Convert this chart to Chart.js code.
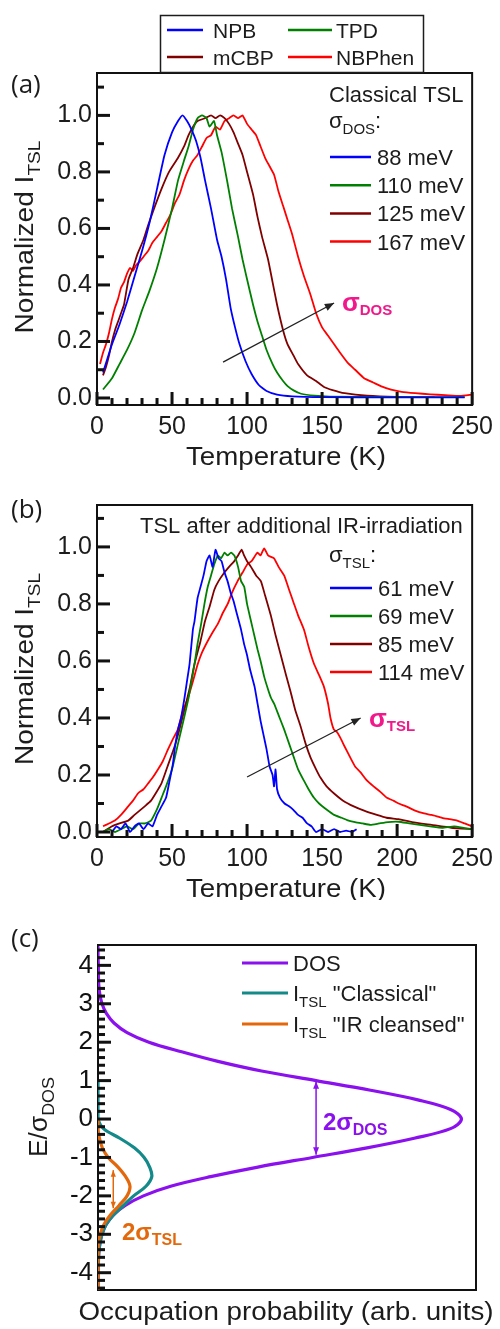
<!DOCTYPE html>
<html>
<head>
<meta charset="utf-8">
<title>TSL spectra and DOS</title>
<script src="https://cdn.jsdelivr.net/npm/chart.js@4.4.1/dist/chart.umd.min.js"></script>
<style>
  html, body { margin: 0; padding: 0; background: #fff; }
  body { position: relative; width: 500px; height: 1329px; overflow: hidden; }
  canvas { position: absolute; left: 0; }
  #chartA { top: 0; }
  #chartB { top: 470px; }
  #chartC { top: 900px; }
</style>
</head>
<body>
<canvas id="chartA" width="500" height="470"></canvas>
<canvas id="chartB" width="500" height="430"></canvas>
<canvas id="chartC" width="500" height="429"></canvas>
<script>
// ---- panel (a): classical TSL, [temperature K, normalized intensity] ----
const npbClassical = [[4,0.09],[10,0.19],[15,0.26],[20,0.34],[25,0.43],[30,0.52],[35,0.62],[40,0.74],[45,0.86],[50,0.94],[54,0.98],[57,1.0],[60,0.98],[63,0.95],[66,0.91],[69,0.85],[72,0.77],[76,0.67],[80,0.56],[83,0.5],[86,0.42],[89,0.32],[92,0.25],[95,0.19],[99,0.13],[103,0.085],[108,0.045],[113,0.025],[120,0.012],[130,0.006],[150,0.003],[200,0.002],[245,0.002]];
const tpdClassical = [[4,0.03],[10,0.07],[15,0.12],[20,0.17],[25,0.23],[30,0.31],[35,0.38],[40,0.46],[45,0.56],[50,0.67],[54,0.77],[58,0.84],[61,0.89],[64,0.95],[67,0.99],[70,1.0],[73,0.99],[75,0.96],[78,0.98],[80,0.93],[83,0.87],[87,0.76],[90,0.67],[94,0.57],[97,0.49],[100,0.42],[104,0.33],[107,0.27],[110,0.22],[113,0.17],[117,0.12],[120,0.09],[124,0.06],[127,0.042],[131,0.027],[136,0.015],[145,0.008],[155,0.005],[200,0.003],[245,0.003]];
const mcbpClassical = [[4,0.08],[6,0.11],[8,0.15],[10,0.2],[12,0.24],[14,0.27],[16,0.3],[18,0.33],[21,0.42],[24,0.46],[27,0.51],[31,0.56],[34,0.61],[38,0.67],[43,0.74],[48,0.8],[54,0.85],[58,0.89],[61,0.93],[64,0.96],[67,0.98],[72,0.99],[76,1.0],[79,0.99],[82,1.0],[85,0.99],[88,0.97],[91,0.94],[94,0.9],[97,0.86],[100,0.8],[104,0.72],[107,0.64],[110,0.57],[114,0.49],[117,0.41],[120,0.33],[124,0.24],[127,0.19],[131,0.15],[134,0.12],[140,0.08],[146,0.06],[151,0.04],[157,0.028],[165,0.017],[180,0.008],[200,0.004],[225,0.003]];
const nbphenClassical = [[2,0.12],[4,0.16],[6,0.19],[8,0.23],[10,0.28],[12,0.32],[14,0.35],[16,0.39],[18,0.41],[20,0.44],[22,0.46],[24,0.45],[26,0.47],[28,0.48],[31,0.5],[34,0.52],[37,0.55],[40,0.57],[43,0.59],[46,0.62],[49,0.65],[52,0.69],[55,0.72],[58,0.77],[61,0.81],[64,0.84],[67,0.86],[70,0.89],[73,0.92],[76,0.93],[79,0.96],[82,0.95],[85,0.98],[88,0.99],[91,1.0],[94,0.99],[97,1.0],[100,0.97],[103,0.95],[106,0.93],[109,0.89],[112,0.85],[115,0.82],[118,0.79],[121,0.73],[124,0.68],[127,0.63],[130,0.58],[134,0.5],[138,0.43],[142,0.37],[146,0.3],[150,0.25],[154,0.22],[158,0.19],[162,0.16],[167,0.125],[172,0.1],[178,0.07],[184,0.055],[190,0.04],[196,0.03],[203,0.022],[212,0.017],[222,0.013],[232,0.01],[242,0.007],[250,0.012]];

// ---- panel (b): TSL after IR irradiation ----
const npbIR = [[10,0.0],[13,0.02],[16,0.01],[19,0.03],[22,0.0],[25,0.02],[28,0.03],[31,0.01],[34,0.03],[37,0.02],[40,0.06],[43,0.09],[46,0.12],[48,0.17],[50.6,0.24],[52,0.3],[54,0.36],[56,0.4],[58.3,0.47],[60,0.53],[61.7,0.59],[63.9,0.71],[65,0.74],[67,0.82],[69,0.86],[71,0.9],[73,0.95],[75,0.97],[77,0.93],[79,0.99],[81,0.96],[83,0.95],[85,0.91],[87,0.88],[89,0.84],[91,0.81],[93,0.77],[96,0.71],[98,0.66],[100,0.62],[102,0.57],[105,0.51],[107,0.45],[109,0.39],[111,0.34],[113,0.29],[115,0.23],[117,0.2],[118,0.16],[119,0.22],[120,0.15],[122,0.12],[125,0.1],[128,0.09],[131,0.077],[134,0.06],[137,0.05],[140,0.03],[143,0.02],[146,0.0],[150,0.01],[154,0.0],[158,0.01],[162,0.0],[166,0.005],[170,0.0],[173,0.01]];
const tpdIR = [[4,0.0],[8,0.01],[12,0.0],[16,0.01],[20,0.02],[24,0.01],[28,0.03],[32,0.03],[36,0.04],[40,0.08],[43,0.12],[46,0.16],[50,0.22],[54,0.31],[58,0.4],[61,0.47],[63,0.53],[65,0.59],[67,0.66],[69.4,0.73],[71.6,0.8],[73.8,0.86],[76,0.9],[78.2,0.94],[80.5,0.97],[82.7,0.96],[85,0.98],[87,0.97],[89.3,0.98],[91.5,0.97],[94,0.93],[96,0.88],[98.1,0.86],[100,0.8],[102.6,0.74],[104.8,0.69],[107,0.64],[109,0.6],[111.4,0.545],[114,0.5],[116,0.47],[118,0.45],[121,0.41],[124.7,0.36],[128,0.31],[131.3,0.26],[134,0.22],[137.9,0.18],[141,0.15],[144.6,0.12],[148,0.1],[153.4,0.077],[158,0.06],[163,0.05],[166.7,0.042],[172,0.035],[177,0.03],[182.2,0.025],[188,0.03],[194,0.035],[201,0.036],[208,0.03],[215,0.025],[222,0.02],[230,0.015],[238,0.02],[245,0.014],[250,0.01]];
const mcbpIR = [[4,0.0],[10,0.02],[15,0.03],[20.8,0.04],[25,0.06],[31.8,0.09],[36,0.11],[42.9,0.17],[47,0.23],[51.7,0.3],[55,0.36],[58.3,0.43],[62,0.51],[65,0.59],[69,0.67],[72,0.74],[75,0.79],[78.2,0.85],[81,0.88],[84.9,0.91],[88,0.93],[91.5,0.95],[94,0.97],[96.4,0.99],[98,0.97],[100,0.95],[102.6,0.93],[106,0.9],[109.2,0.88],[112,0.83],[115.8,0.76],[119,0.69],[122.5,0.62],[126,0.55],[129.1,0.49],[132,0.43],[135.7,0.37],[139,0.31],[142.4,0.26],[146,0.22],[149,0.19],[153,0.16],[157.8,0.136],[164,0.11],[171.1,0.09],[178,0.075],[186.5,0.06],[193,0.05],[201,0.045],[210,0.035],[223,0.025],[236,0.015],[250,0.01]];
const nbphenIR = [[4,0.02],[8,0.03],[11.9,0.04],[16,0.06],[20.8,0.09],[24,0.11],[27.4,0.136],[31,0.15],[34,0.17],[37,0.19],[40.7,0.22],[44,0.25],[47.3,0.29],[50,0.32],[53.9,0.36],[57,0.42],[60.6,0.47],[64,0.53],[67.2,0.59],[70,0.63],[73.8,0.67],[77,0.7],[80.5,0.73],[84,0.77],[87.1,0.8],[90,0.84],[93.7,0.88],[97,0.91],[100.3,0.94],[103,0.95],[107,0.98],[109,0.97],[111.4,0.995],[114,0.97],[118,0.96],[121,0.93],[124.7,0.9],[128,0.85],[131.3,0.8],[134,0.76],[137.9,0.71],[141,0.65],[144.6,0.59],[148,0.55],[151.2,0.51],[154,0.45],[155.6,0.4],[157.8,0.36],[160,0.35],[162.2,0.33],[165,0.3],[168.9,0.26],[172,0.23],[175.5,0.21],[180,0.18],[184.3,0.16],[189,0.14],[193.2,0.12],[197.6,0.11],[201,0.1],[206,0.09],[212,0.075],[218,0.065],[223,0.06],[230,0.05],[235,0.045],[240,0.04],[245,0.03],[250,0.02]];

// ---- panel (c): energy in units of sigma_DOS and occupation profiles ----
const energyLevels = [4.5,4.25,4,3.75,3.5,3.25,3,2.75,2.5,2.25,2,1.75,1.5,1.25,1,0.75,0.5,0.25,0,-0.25,-0.5,-0.75,-1,-1.25,-1.5,-1.75,-2,-2.25,-2.5,-2.75,-3,-3.25,-3.5,-3.75,-4,-4.25,-4.5];
const dosProfile = [0,0,0.001,0.001,0.002,0.005,0.011,0.023,0.044,0.08,0.14,0.23,0.33,0.45,0.6,0.75,0.88,0.97,1.0,0.97,0.87,0.74,0.59,0.44,0.31,0.2,0.125,0.075,0.042,0.022,0.011,0.005,0.002,0.001,0.001,0,0];
const classicalProfile = [null,null,null,null,null,null,null,null,null,null,null,null,null,null,0,0,0,0,0,0.015,0.06,0.1,0.127,0.142,0.148,0.132,0.098,0.07,0.042,0.022,0.011,0.005,0.002,0.001,0,0,0];
const cleansedProfile = [null,null,null,null,null,null,null,null,null,null,null,null,null,null,null,null,null,null,0,0,0.004,0.012,0.028,0.055,0.076,0.088,0.08,0.058,0.034,0.016,0.006,0.001,0,0,0,0,0];

// ---- ticks and labels ----
const tempTicks = [0, 50, 100, 150, 200, 250];
const tempMinorTicks = [10, 20, 30, 40, 60, 70, 80, 90, 110, 120, 130, 140, 160, 170, 180, 190, 210, 220, 230, 240];
const intensityTicks = [0, 0.2, 0.4, 0.6, 0.8, 1.0];
const intensityMinorTicks = [0.1, 0.3, 0.5, 0.7, 0.9, 1.1];
const energyTicks = [-4, -3, -2, -1, 0, 1, 2, 3, 4];
const materials = ['NPB', 'TPD', 'mCBP', 'NBPhen'];
const sigmaDOS = ['88 meV', '110 meV', '125 meV', '167 meV'];
const sigmaTSL = ['61 meV', '69 meV', '85 meV', '114 meV'];

const COLORS = { npb: '#0000ff', tpd: '#008000', mcbp: '#800000', nbphen: '#ff0000' };
const DOS_COLOR = '#8b10ee';
const TEAL = '#13898a';
const ORANGE = '#e3680c';
const PINK = '#f0188a';
const INK = '#1c1c1c';
const TICK_COLOR = '#111';
const FONT = "'Liberation Sans', Arial, sans-serif";
const LABEL_FONT = "'Open Sans', 'Liberation Sans', sans-serif";

// minor energy ticks every 0.2 between the integer ones
const energyMinorTicks = [];
for (let k = -22; k <= 22; k++) { if (k % 5 !== 0) energyMinorTicks.push(k / 5); }

const toPoints = (pairs) => pairs.map(([x, y]) => ({ x, y }));
const profilePoints = (values) => values.map((v, i) => ({ x: v, y: energyLevels[i] })).filter((p) => p.x !== null);
const P = (t, size, dy = 0, bold = false) => ({ t, size, dy, bold });

/**
 * Draws a run of text parts (for sub-scripts), optionally stretched to a width.
 */
function drawRich(ctx, x, y, parts, color, align, targetWidth) {
  const fontOf = (p) => (p.bold ? 'bold ' : '') + p.size + 'px ' + FONT;
  let w = 0;
  parts.forEach((p) => { ctx.font = fontOf(p); w += ctx.measureText(p.t).width; });
  const k = targetWidth ? targetWidth / w : 1;
  ctx.save();
  ctx.translate(x, y);
  ctx.scale(k, 1);
  let cx = align === 'center' ? -w / 2 : 0;
  ctx.fillStyle = color;
  ctx.textAlign = 'left';
  ctx.textBaseline = 'alphabetic';
  parts.forEach((p) => { ctx.font = fontOf(p); ctx.fillText(p.t, cx, p.dy); cx += ctx.measureText(p.t).width; });
  ctx.restore();
}

/**
 * Same as drawRich but rotated for a vertical axis title (reads bottom to top).
 */
function drawRotated(ctx, x, y, parts, color, length) {
  ctx.save();
  ctx.translate(x, y);
  ctx.rotate(-Math.PI / 2);
  drawRich(ctx, 0, 0, parts, color, 'center', length);
  ctx.restore();
}

function arrow(ctx, x1, y1, x2, y2, color, lw, head, both) {
  ctx.save();
  ctx.strokeStyle = color;
  ctx.fillStyle = color;
  ctx.lineWidth = lw;
  ctx.beginPath();
  ctx.moveTo(x1, y1);
  ctx.lineTo(x2, y2);
  ctx.stroke();
  const tip = (xa, ya, xb, yb) => {
    const ang = Math.atan2(yb - ya, xb - xa);
    ctx.beginPath();
    ctx.moveTo(xb, yb);
    ctx.lineTo(xb - head * Math.cos(ang - 0.38), yb - head * Math.sin(ang - 0.38));
    ctx.lineTo(xb - head * Math.cos(ang + 0.38), yb - head * Math.sin(ang + 0.38));
    ctx.closePath();
    ctx.fill();
  };
  tip(x1, y1, x2, y2);
  if (both) tip(x2, y2, x1, y1);
  ctx.restore();
}

function legendLine(ctx, x1, x2, y, color, lw) {
  ctx.save();
  ctx.strokeStyle = color;
  ctx.lineWidth = lw;
  ctx.beginPath();
  ctx.moveTo(x1, y);
  ctx.lineTo(x2, y);
  ctx.stroke();
  ctx.restore();
}

function panelLabel(ctx, text, y) {
  ctx.save();
  ctx.font = '26px ' + LABEL_FONT;
  ctx.fillStyle = INK;
  ctx.textBaseline = 'middle';
  ctx.fillText(text, 11, y);
  ctx.restore();
}

/**
 * Inward tick marks drawn as small filled bars along the bottom and left edges.
 */
function drawTickMarks(chart, tickSet) {
  const ctx = chart.ctx;
  const a = chart.chartArea;
  const sx = chart.scales.x;
  const sy = chart.scales.y;
  ctx.save();
  ctx.fillStyle = TICK_COLOR;
  (tickSet.xMajor || []).forEach((v) => { const px = sx.getPixelForValue(v); ctx.fillRect(px - 1.5, a.bottom - 13, 3, 13); });
  (tickSet.xMinor || []).forEach((v) => { const px = sx.getPixelForValue(v); ctx.fillRect(px - 1.5, a.bottom - 7, 3, 7); });
  (tickSet.yMajor || []).forEach((v) => { const py = sy.getPixelForValue(v); ctx.fillRect(a.left, py - 1.5, 13, 3); });
  (tickSet.yMinor || []).forEach((v) => { const py = sy.getPixelForValue(v); ctx.fillRect(a.left, py - 1.5, 7, 3); });
  ctx.restore();
}

/**
 * Box round the plot area (under the curves); ticks and annotations after drawing.
 */
function framePlugin(id, tickSet, draw) {
  return {
    id: id,
    beforeDatasetsDraw(chart) {
      const a = chart.chartArea;
      const ctx = chart.ctx;
      ctx.save();
      ctx.strokeStyle = '#111';
      ctx.lineWidth = 2;
      ctx.strokeRect(a.left, a.top, a.right - a.left, a.bottom - a.top);
      ctx.restore();
    },
    afterDraw(chart) {
      drawTickMarks(chart, tickSet);
      draw(chart);
    },
  };
}

function lineSet(label, pairs, color) {
  return { label, data: toPoints(pairs), borderColor: color, borderWidth: 1.8, showLine: true, pointRadius: 0, tension: 0.15 };
}

/**
 * Shared scale setup for the two temperature panels.
 */
function tempScales(yMin, yMax, xHeight) {
  return {
    x: {
      type: 'linear', min: 0, max: 250,
      grid: { display: false, drawTicks: false }, border: { display: false },
      afterBuildTicks: (s) => { s.ticks = tempTicks.map((v) => ({ value: v })); },
      afterFit: (s) => { s.height = xHeight; },
      ticks: { autoSkip: false, maxRotation: 0, padding: 7, color: INK, font: { family: FONT, size: 25 } },
    },
    y: {
      type: 'linear', min: yMin, max: yMax,
      grid: { display: false, drawTicks: false }, border: { display: false },
      afterBuildTicks: (s) => { s.ticks = intensityTicks.map((v) => ({ value: v })); },
      afterFit: (s) => { s.width = 97; },
      ticks: { autoSkip: false, padding: 5, color: INK, font: { family: FONT, size: 25 }, callback: (v) => Number(v).toFixed(1) },
    },
  };
}

const baseOptions = {
  responsive: false,
  animation: false,
  devicePixelRatio: 1,
  plugins: { legend: { display: false }, tooltip: { enabled: false } },
};

const tempTickSet = { xMajor: tempTicks, xMinor: tempMinorTicks, yMajor: intensityTicks, yMinor: intensityMinorTicks };

function initPanelA() {
  const drawA = (chart) => {
    const { ctx, scales: { x, y } } = chart;
    // legend box shared by all panels
    ctx.save();
    ctx.strokeStyle = INK;
    ctx.lineWidth = 1.5;
    ctx.strokeRect(160.5, 15.5, 263, 57);
    ctx.restore();
    const rows = [[167, 203, 30, COLORS.npb, 213], [288, 332, 30, COLORS.tpd, 336], [167, 203, 57, COLORS.mcbp, 213], [288, 332, 57, COLORS.nbphen, 336]];
    rows.forEach((r, i) => {
      legendLine(ctx, r[0], r[1], r[2], r[3], 2.5);
      drawRich(ctx, r[4], r[2] + 8, [P(materials[i], 21)], INK, 'left');
    });
    // inner legend
    drawRich(ctx, 329, 102, [P('Classical TSL', 22)], INK, 'left');
    drawRich(ctx, 329, 128, [P('σ', 22), P('DOS', 15, 6), P(':', 22)], INK, 'left');
    const colors = [COLORS.npb, COLORS.tpd, COLORS.mcbp, COLORS.nbphen];
    sigmaDOS.forEach((t, i) => {
      const yy = 157 + i * 28.2;
      legendLine(ctx, 330, 371, yy, colors[i], 2.5);
      drawRich(ctx, 377, yy + 8, [P(t, 22)], INK, 'left');
    });
    arrow(ctx, x.getPixelForValue(84), y.getPixelForValue(0.127), x.getPixelForValue(158), y.getPixelForValue(0.336), '#222', 1.3, 10, false);
    drawRich(ctx, 342, 311, [P('σ', 26, 0, true), P('DOS', 15, 4, true)], PINK, 'left');
    // axis titles
    drawRich(ctx, 286, 465, [P('Temperature (K)', 25)], INK, 'center', 200);
    drawRotated(ctx, 33, 237, [P('Normalized I', 25), P('TSL', 17, 7)], INK, 193);
    panelLabel(ctx, '(a)', 86);
  };
  new Chart(document.getElementById('chartA'), {
    type: 'scatter',
    data: {
      datasets: [
        lineSet('NPB', npbClassical, COLORS.npb),
        lineSet('TPD', tpdClassical, COLORS.tpd),
        lineSet('mCBP', mcbpClassical, COLORS.mcbp),
        lineSet('NBPhen', nbphenClassical, COLORS.nbphen),
      ],
    },
    options: Object.assign({}, baseOptions, {
      layout: { padding: { top: 73, right: 26, left: 0, bottom: 0 } },
      scales: tempScales(-0.0248, 1.15, 65),
    }),
    plugins: [framePlugin('frameA', tempTickSet, drawA)],
  });
}

function initPanelB() {
  const drawB = (chart) => {
    const { ctx, scales: { x, y } } = chart;
    drawRich(ctx, 140, 63, [P('TSL after additional IR-irradiation', 22)], INK, 'left');
    drawRich(ctx, 329, 92, [P('σ', 22), P('TSL', 15, 6), P(':', 22)], INK, 'left');
    const colors = [COLORS.npb, COLORS.tpd, COLORS.mcbp, COLORS.nbphen];
    sigmaTSL.forEach((t, i) => {
      const yy = 118 + i * 28;
      legendLine(ctx, 330, 372, yy, colors[i], 2.5);
      drawRich(ctx, 378, yy + 8, [P(t, 22)], INK, 'left');
    });
    arrow(ctx, x.getPixelForValue(100), y.getPixelForValue(0.193), x.getPixelForValue(175.7), y.getPixelForValue(0.4), '#222', 1.3, 10, false);
    drawRich(ctx, 369, 257, [P('σ', 26, 0, true), P('TSL', 15, 4, true)], PINK, 'left');
    drawRich(ctx, 286, 427, [P('Temperature (K)', 25)], INK, 'center', 200);
    drawRotated(ctx, 33, 199, [P('Normalized I', 25), P('TSL', 17, 7)], INK, 192);
    panelLabel(ctx, '(b)', 41);
  };
  new Chart(document.getElementById('chartB'), {
    type: 'scatter',
    data: {
      datasets: [
        lineSet('NPB', npbIR, COLORS.npb),
        lineSet('TPD', tpdIR, COLORS.tpd),
        lineSet('mCBP', mcbpIR, COLORS.mcbp),
        lineSet('NBPhen', nbphenIR, COLORS.nbphen),
      ],
    },
    options: Object.assign({}, baseOptions, {
      layout: { padding: { top: 35, right: 26, left: 0, bottom: 0 } },
      scales: tempScales(-0.0175, 1.147, 63),
    }),
    plugins: [framePlugin('frameB', tempTickSet, drawB)],
  });
}

function initPanelC() {
  const drawC = (chart) => {
    const { ctx, scales: { x, y } } = chart;
    const rows = [[63, DOS_COLOR, [P('DOS', 22)]], [93, TEAL, [P('I', 22), P('TSL', 15, 6), P(' "Classical"', 22)]], [124, ORANGE, [P('I', 22), P('TSL', 15, 6), P(' "IR cleansed"', 22)]]];
    rows.forEach((r) => {
      legendLine(ctx, 242, 288, r[0], r[1], 3);
      drawRich(ctx, 293, r[0] + 8, r[2], INK, 'left');
    });
    arrow(ctx, x.getPixelForValue(0.6), y.getPixelForValue(0.98), x.getPixelForValue(0.6), y.getPixelForValue(-0.93), DOS_COLOR, 1.5, 8, true);
    drawRich(ctx, 323, 230, [P('2σ', 24, 0, true), P('DOS', 16, 5, true)], DOS_COLOR, 'left');
    arrow(ctx, x.getPixelForValue(0.042), y.getPixelForValue(-1.33), x.getPixelForValue(0.042), y.getPixelForValue(-2.32), ORANGE, 1.5, 7, true);
    drawRich(ctx, 122, 340, [P('2σ', 24, 0, true), P('TSL', 16, 5, true)], ORANGE, 'left');
    drawRich(ctx, 286, 420, [P('Occupation probability (arb. units)', 25)], INK, 'center', 415);
    drawRotated(ctx, 47, 217, [P('E/σ', 25), P('DOS', 17, 7)], INK, 80);
    panelLabel(ctx, '(c)', 40);
  };
  const profileSet = (label, values, color, order) => ({
    label, data: profilePoints(values), borderColor: color, borderWidth: 3.2, showLine: true, pointRadius: 0, tension: 0.35, order,
  });
  new Chart(document.getElementById('chartC'), {
    type: 'scatter',
    data: {
      datasets: [
        profileSet('DOS', dosProfile, DOS_COLOR, 3),
        profileSet('I_TSL "Classical"', classicalProfile, TEAL, 2),
        profileSet('I_TSL "IR cleansed"', cleansedProfile, ORANGE, 1),
      ],
    },
    options: Object.assign({}, baseOptions, {
      layout: { padding: { top: 45, right: 24, left: 0, bottom: 0 } },
      scales: {
        x: {
          type: 'linear', min: 0, max: 1.04,
          grid: { display: false, drawTicks: false }, border: { display: false },
          ticks: { display: false },
          afterFit: (s) => { s.height = 39; },
        },
        y: {
          type: 'linear', min: -4.45, max: 4.53,
          grid: { display: false, drawTicks: false }, border: { display: false },
          afterBuildTicks: (s) => { s.ticks = energyTicks.map((v) => ({ value: v })); },
          afterFit: (s) => { s.width = 98; },
          ticks: { autoSkip: false, padding: 5, color: '#111', font: { family: FONT, size: 26 }, callback: (v) => String(v) },
        },
      },
    }),
    plugins: [framePlugin('frameC', { yMajor: energyTicks, yMinor: energyMinorTicks }, drawC)],
  });
}

document.addEventListener('DOMContentLoaded', () => {
  initPanelA();
  initPanelB();
  initPanelC();
});
</script>
</body>
</html>
